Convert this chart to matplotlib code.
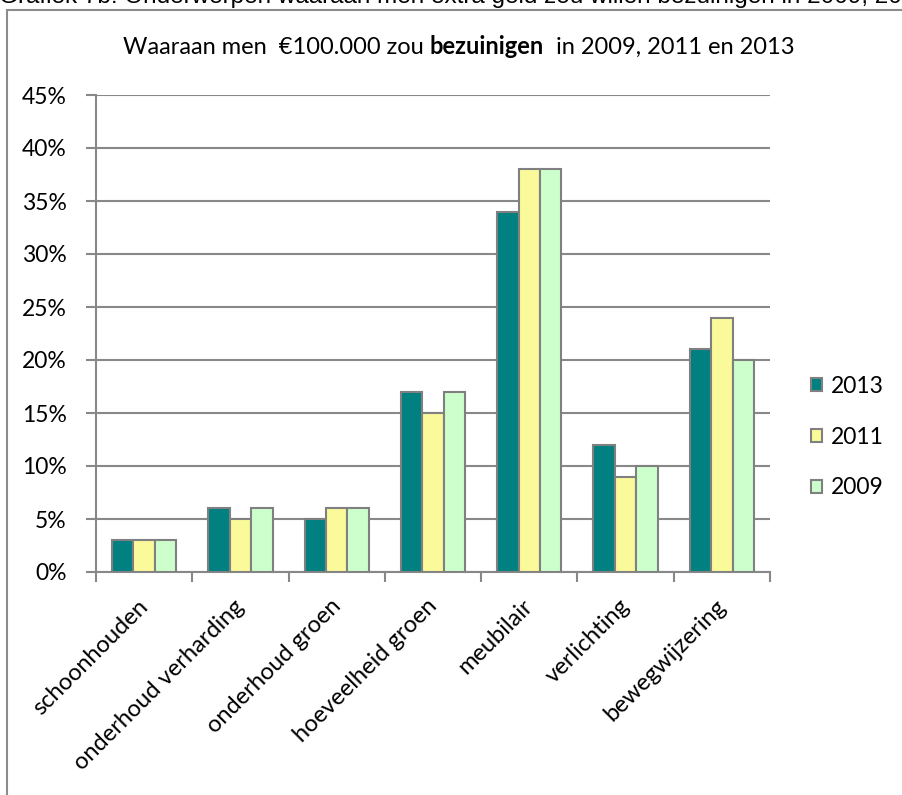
import numpy as np
import matplotlib.pyplot as plt
from matplotlib.patches import Rectangle, Patch
from matplotlib.ticker import FixedLocator

plt.rcParams['font.family'] = ['Lato', 'DejaVu Sans']

categories = ['schoonhouden', 'onderhoud verharding', 'onderhoud groen',
              'hoeveelheid groen', 'meubilair', 'verlichting', 'bewegwijzering']
years = ['2013', '2011', '2009']
v2013 = [3, 6, 5, 17, 34, 12, 21]
v2011 = [3, 5, 6, 15, 38, 9, 24]
v2009 = [3, 6, 6, 17, 38, 10, 20]
colors = ['#008080', '#FAFA9A', '#CCFFCC']

fig = plt.figure(figsize=(9.02, 7.95), dpi=100)
ax = fig.add_axes([96/902, 1-572/795, 674/902, 477/795])

# outer chart frame and the caption that is cropped at the top
fig.patches.append(Rectangle((7/902, -0.05), 1.0, 1.05 - 10/795, transform=fig.transFigure,
                             fill=False, edgecolor='#8c8c8c', lw=1.5))
fig.text(-1/902, 1 - 3.5/795,
         'Grafiek 7b: Onderwerpen waaraan men extra geld zou willen bezuinigen in 2009, 2011 en 2013',
         fontsize=17.5, va='baseline', ha='left', family=['Liberation Sans', 'DejaVu Sans'])

x = np.arange(len(categories))
w = 0.223
for i, (vals, c) in enumerate(zip([v2013, v2011, v2009], colors)):
    ax.bar(x + (i - 1) * w, vals, w, color=c, edgecolor='#808080', lw=1.5, zorder=3, label=years[i])

ax.set_xlim(-0.5, len(categories) - 0.5)
ax.set_ylim(0, 45)
ax.set_yticks(np.arange(0, 46, 5))
ax.set_yticklabels([f'{t}%' for t in range(0, 46, 5)], fontsize=16.5)
ax.yaxis.grid(True, color='#888888', lw=1.5, zorder=0)
ax.xaxis.set_major_locator(FixedLocator(np.arange(-0.5, len(categories), 1)))
ax.set_xticklabels([])
ax.tick_params(axis='both', direction='out', length=7, width=1.5, color='#888888', pad=14)
for s in ['top', 'right']:
    ax.spines[s].set_visible(False)
for s in ['left', 'bottom']:
    ax.spines[s].set_color('#888888')
    ax.spines[s].set_linewidth(1.5)

for xi, lab in zip(x, categories):
    ax.annotate(lab, xy=(xi, 0), xycoords=('data', 'axes fraction'), xytext=(-5, -17),
                textcoords='offset points', rotation=45, ha='right', va='top',
                rotation_mode='anchor', fontsize=17)

handles = [Patch(facecolor=c, edgecolor='#808080', lw=1.5) for c in colors]
fig.legend(handles, years, loc='center left', bbox_to_anchor=(790/902, 1-437/795),
           frameon=False, fontsize=16.5, handlelength=0.5, handleheight=0.5,
           handletextpad=0.4, labelspacing=1.3)

# title with one bold word
fig.canvas.draw()
r = fig.canvas.get_renderer()
parts = [('Waaraan men  \u20ac100.000 zou ', 'normal'), ('bezuinigen', 'bold'), ('  in 2009, 2011 en 2013', 'normal')]
texts = []
for s, wgt in parts:
    texts.append(fig.text(0, 1 - 47/795, s, fontsize=17, fontweight=wgt, va='center', ha='left'))
widths = [t.get_window_extent(r).width for t in texts]
xpos = 459 - sum(widths) / 2
for t, wd in zip(texts, widths):
    t.set_x(xpos / 902)
    xpos += wd

fig.savefig('out.png', dpi=100)
